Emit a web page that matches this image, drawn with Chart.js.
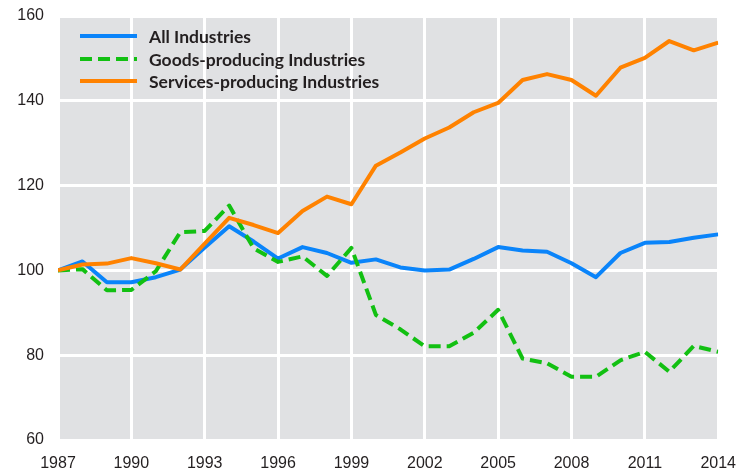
<!DOCTYPE html>
<html>
<head>
<meta charset="utf-8">
<script src="https://cdn.jsdelivr.net/npm/chart.js@4.4.1/dist/chart.umd.min.js"></script>
<style>
  html, body { margin: 0; padding: 0; background: #fff; }
  #wrap { width: 750px; height: 471px; position: relative; }
</style>
</head>
<body>
<div id="wrap"><canvas id="chart"></canvas></div>
<script>
// Index, 1987 = 100
const years = [1987, 1988, 1989, 1990, 1991, 1992, 1993, 1994, 1995, 1996, 1997, 1998, 1999, 2000,
               2001, 2002, 2003, 2004, 2005, 2006, 2007, 2008, 2009, 2010, 2011, 2012, 2013, 2014];
const allIndustries = [100, 102.1, 97.2, 97.2, 98.4, 100.2, 105.4, 110.4, 106.8, 102.8, 105.5, 104.1, 101.8, 102.6,
                       100.7, 100.0, 100.2, 102.7, 105.5, 104.7, 104.4, 101.7, 98.4, 104.1, 106.5, 106.7, 107.7, 108.5];
const goodsProducing = [100, 100.3, 95.3, 95.4, 99.8, 109.0, 109.3, 115.3, 105.2, 102.0, 103.3, 98.7, 105.3, 89.5,
                        86.1, 82.1, 82.1, 85.3, 90.7, 79.2, 78.1, 74.9, 74.9, 78.8, 80.8, 76.1, 82.2, 80.8];
const servicesProducing = [100, 101.4, 101.6, 102.9, 101.7, 100.2, 106.3, 112.4, 110.7, 108.8, 114.0, 117.4, 115.6, 124.7,
                           127.8, 131.1, 133.7, 137.3, 139.5, 144.9, 146.3, 144.9, 141.2, 147.8, 150.1, 154.1, 151.9, 153.7];
const seriesNames = ['All Industries', 'Goods-producing Industries', 'Services-producing Industries'];
const yTicks = [60, 80, 100, 120, 140, 160];

const toPoints = vals => vals.map((v, i) => ({ x: years[i], y: v }));

// fond gris de la zone de tracé
const plotBackground = {
    id: 'plotBackground',
    beforeDraw(chart) {
        const { ctx, chartArea: a } = chart;
        ctx.save();
        ctx.fillStyle = '#e0e1e3';
        ctx.fillRect(a.left, a.top, a.right - a.left, a.bottom - a.top);
        ctx.restore();
    }
};

// légende dessinée à la main dans le coin haut gauche
const lineLegend = {
    id: 'lineLegend',
    afterDatasetsDraw(chart) {
        const ctx = chart.ctx;
        const rows = [36, 59, 81];
        ctx.save();
        // taille de police ajustée pour que la plus longue étiquette fasse ~230 px
        ctx.font = 'bold 15px Lato';
        const widest = Math.max(...chart.data.datasets.map(d => ctx.measureText(d.label).width));
        const size = Math.min(18, 15 * 230 / widest);
        chart.data.datasets.forEach((ds, i) => {
            const y = rows[i];
            ctx.beginPath();
            ctx.strokeStyle = ds.borderColor;
            ctx.lineWidth = 4;
            ctx.setLineDash(ds.borderDash || []);
            ctx.moveTo(80, y);
            ctx.lineTo(137, y);
            ctx.stroke();
            ctx.setLineDash([]);
            ctx.fillStyle = '#231f20';
            ctx.font = 'bold ' + size.toFixed(1) + 'px Lato';
            ctx.textBaseline = 'middle';
            ctx.fillText(ds.label, 149, y + 1);
        });
        ctx.restore();
    }
};

new Chart(document.getElementById('chart'), {
    type: 'line',
    data: {
        datasets: [
            { label: seriesNames[0], data: toPoints(allIndustries), borderColor: '#0a84fa', order: 3 },
            { label: seriesNames[1], data: toPoints(goodsProducing), borderColor: '#12c012', borderDash: [12, 6], order: 2 },
            { label: seriesNames[2], data: toPoints(servicesProducing), borderColor: '#ff8200', order: 1 }
        ]
    },
    options: {
        responsive: true,
        maintainAspectRatio: false,
        animation: false,
        layout: { padding: { top: 16, right: 30, left: 0, bottom: 0 } },
        elements: {
            line: { borderWidth: 4, tension: 0, borderJoinStyle: 'round', fill: false },
            point: { radius: 0, hoverRadius: 0 }
        },
        plugins: {
            legend: { display: false },
            tooltip: { enabled: false }
        },
        scales: {
            x: {
                type: 'linear',
                min: 1987,
                max: 2014,
                afterFit: s => { s.height = 31; },
                ticks: {
                    stepSize: 3,
                    padding: 14,
                    color: '#231f20',
                    font: { family: 'Liberation Sans', size: 16 },
                    callback: v => String(v),
                    maxRotation: 0
                },
                grid: { color: '#ffffff', lineWidth: 3, drawTicks: false },
                border: { display: false }
            },
            y: {
                min: 60,
                max: 160,
                afterFit: s => { s.width = 58; s.paddingTop = 0; s.paddingBottom = 0; },
                afterBuildTicks: s => { s.ticks = yTicks.map(v => ({ value: v })); },
                ticks: {
                    padding: 14,
                    color: '#231f20',
                    font: { family: 'Liberation Sans', size: 16 }
                },
                grid: { color: '#ffffff', lineWidth: 3, drawTicks: false },
                border: { display: false }
            }
        }
    },
    plugins: [plotBackground, lineLegend]
});
</script>
</body>
</html>
